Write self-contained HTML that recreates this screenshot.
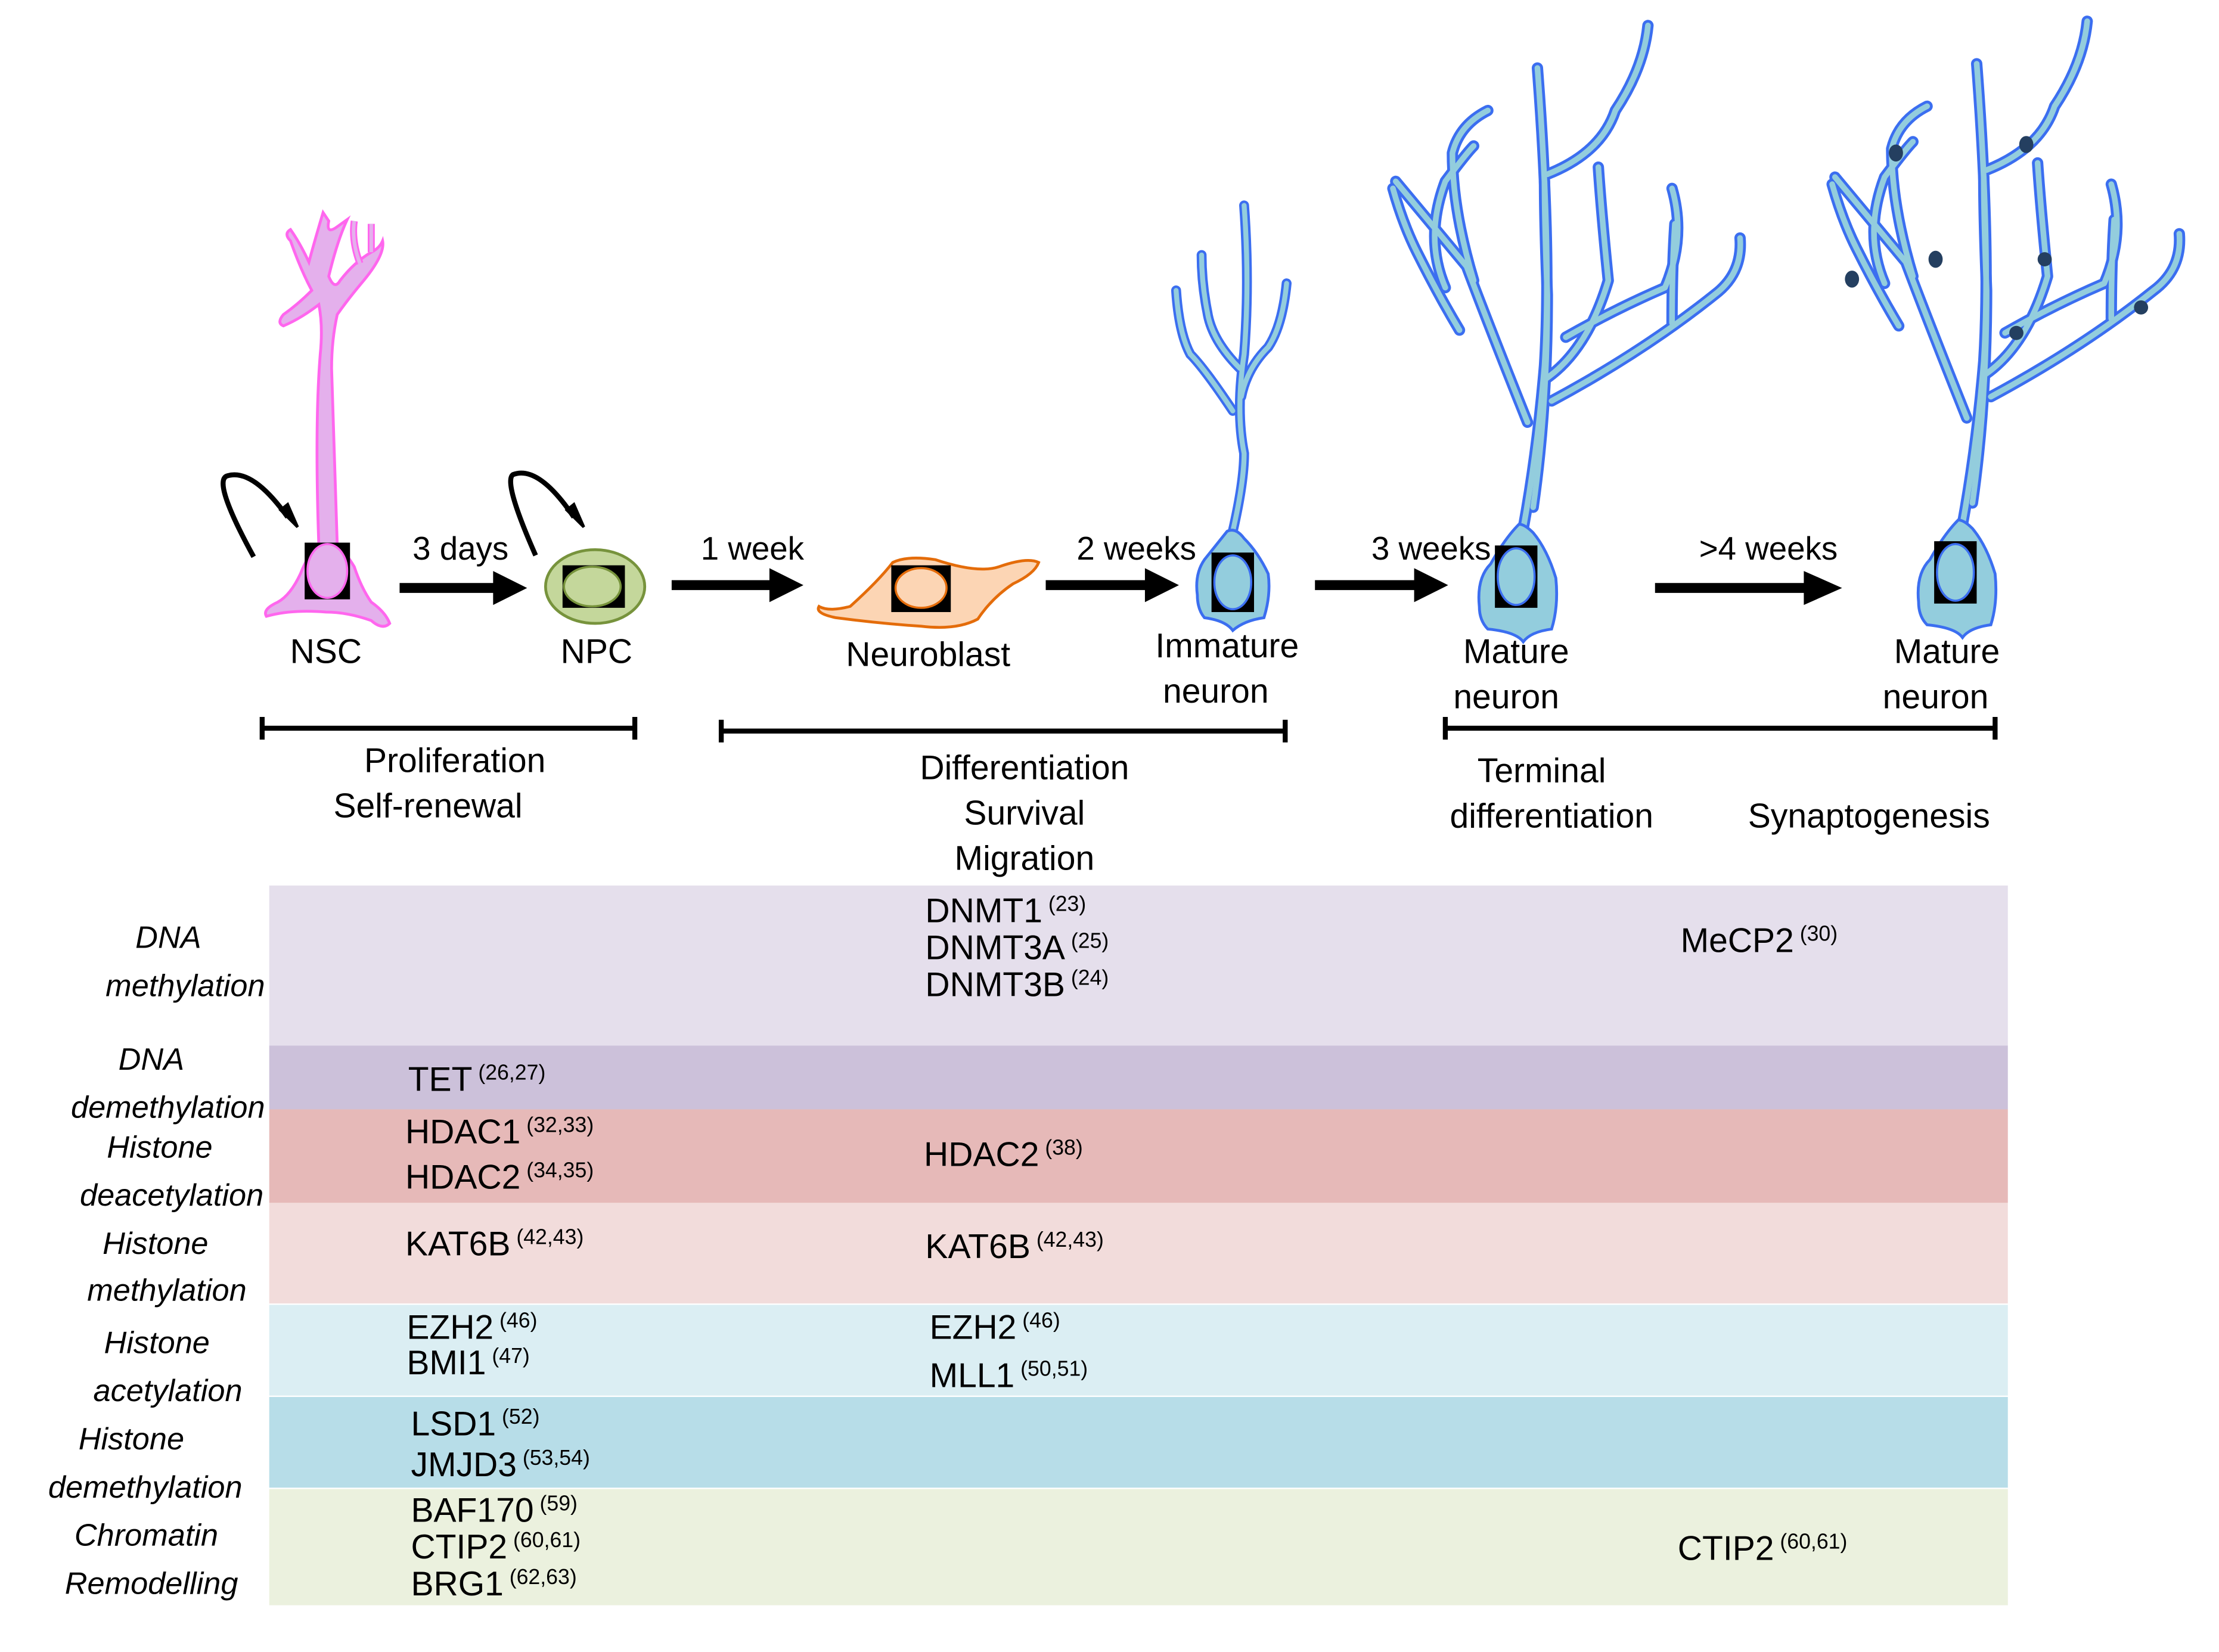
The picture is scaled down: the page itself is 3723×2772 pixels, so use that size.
<!DOCTYPE html>
<html><head><meta charset="utf-8"><style>html,body{margin:0;padding:0;background:#fff}svg{display:block}text{font-family:"Liberation Sans",sans-serif;fill:#000}</style></head><body>
<svg width="3723" height="2772" viewBox="0 0 1566 1166" xmlns="http://www.w3.org/2000/svg">
<defs>
<g id="mature">
 <g fill="none" stroke-linecap="round" stroke-linejoin="round">
  <g stroke="#3b6ef0" stroke-width="8">
   <path d="M5,-35 Q15,-90 20,-150 Q25,-230 15,-360"/>
   <path d="M12,-50 Q22,-120 22,-200 Q20,-250 20,-280"/>
   <path d="M22,-285 Q60,-300 70,-330 Q90,-360 93,-390"/>
   <path d="M8,-110 Q-20,-180 -35,-220 Q-60,-250 -85,-280"/>
   <path d="M-30,-210 Q-45,-260 -45,-300 Q-40,-320 -20,-330"/>
   <path d="M-40,-175 Q-55,-200 -70,-230 Q-80,-250 -87,-275"/>
   <path d="M-50,-205 Q-65,-240 -50,-280 Q-35,-300 -30,-305"/>
   <path d="M20,-140 Q50,-160 65,-210 Q60,-260 58,-290"/>
   <path d="M35,-170 Q70,-190 105,-205 Q120,-240 110,-275"/>
   <path d="M25,-125 Q90,-160 140,-200 Q160,-215 158,-240"/>
   <path d="M110,-180 Q110,-220 112,-250"/>
  </g>
  <g stroke="#93cddd" stroke-width="4">
   <path d="M5,-35 Q15,-90 20,-150 Q25,-230 15,-360"/>
   <path d="M12,-50 Q22,-120 22,-200 Q20,-250 20,-280"/>
   <path d="M22,-285 Q60,-300 70,-330 Q90,-360 93,-390"/>
   <path d="M8,-110 Q-20,-180 -35,-220 Q-60,-250 -85,-280"/>
   <path d="M-30,-210 Q-45,-260 -45,-300 Q-40,-320 -20,-330"/>
   <path d="M-40,-175 Q-55,-200 -70,-230 Q-80,-250 -87,-275"/>
   <path d="M-50,-205 Q-65,-240 -50,-280 Q-35,-300 -30,-305"/>
   <path d="M20,-140 Q50,-160 65,-210 Q60,-260 58,-290"/>
   <path d="M35,-170 Q70,-190 105,-205 Q120,-240 110,-275"/>
   <path d="M25,-125 Q90,-160 140,-200 Q160,-215 158,-240"/>
   <path d="M110,-180 Q110,-220 112,-250"/>
  </g>
 </g>
 <path d="M2,-38 Q-8,-28 -18,-10 Q-28,0 -26,20 Q-26,30 -20,36 Q0,38 5,45 Q10,38 25,36 Q30,20 28,0 Q22,-20 12,-32 Q6,-38 2,-38 Z" fill="#93cddd" stroke="#3b6ef0" stroke-width="2"/>
 <rect x="-15" y="-23" width="30" height="44" fill="#000"/>
 <ellipse cx="0" cy="-1" rx="13" ry="20" fill="#93cddd" stroke="#3b6ef0" stroke-width="1.5"/>
</g>
</defs>

<!-- NSC -->
<path d="M225,385 Q222,300 226,250 Q228,230 225,215 Q212,225 200,230 Q195,228 200,222 Q210,215 220,205 Q212,190 205,170 Q200,165 205,162 Q212,172 218,185 Q222,170 228,150 L232,156 Q230,166 238,160 L245,155 Q238,170 232,195 Q236,205 240,198 Q250,185 262,178 Q268,175 270,170 Q272,180 255,200 Q245,212 238,222 Q234,240 234,260 Q236,320 238,385 Q244,390 250,400 Q255,415 262,425 Q272,432 275,440 Q270,445 262,438 Q245,432 230,432 Q205,430 188,435 Q185,430 196,425 Q205,420 212,405 Q218,390 225,385 Z" fill="#e4b0ec" stroke="#ff66ee" stroke-width="2"/>
<path d="M262,178 L262,158 M254,186 Q248,170 250,156" stroke="#ff66ee" stroke-width="5" fill="none"/>
<path d="M262,178 L262,158 M254,186 Q248,170 250,156" stroke="#e4b0ec" stroke-width="2.5" fill="none"/>
<rect x="215" y="383" width="32" height="40" fill="#000"/>
<ellipse cx="231" cy="403" rx="14" ry="19" fill="#e4b0ec" stroke="#ff66ee" stroke-width="1.5"/>

<path d="M179,393 Q150,340 160,336 Q178,330 203,365" fill="none" stroke="#000" stroke-width="3.5"/>
<path d="M198,360 L210,372 L203,356 Z" fill="#000" stroke="#000" stroke-width="2"/>
<path d="M378,392 Q355,340 362,335 Q380,328 405,365" fill="none" stroke="#000" stroke-width="3.5"/>
<path d="M400,360 L412,372 L405,356 Z" fill="#000" stroke="#000" stroke-width="2"/>

<ellipse cx="420" cy="414" rx="35" ry="26" fill="#c4d79b" stroke="#77933c" stroke-width="2"/>
<rect x="397" y="399" width="44" height="30" fill="#000"/>
<ellipse cx="418" cy="414" rx="20" ry="14" fill="#c4d79b" stroke="#77933c" stroke-width="1.5"/>

<path d="M578,428 Q585,432 600,428 Q620,410 630,397 Q640,392 660,395 Q690,405 705,400 Q725,393 733,397 Q730,405 715,412 Q700,422 690,437 Q675,445 650,442 Q620,440 590,436 Q575,433 578,428 Z" fill="#fcd5b4" stroke="#e46c0a" stroke-width="2"/>
<rect x="629" y="399" width="42" height="33" fill="#000"/>
<ellipse cx="650" cy="415" rx="18" ry="14" fill="#fcd5b4" stroke="#e46c0a" stroke-width="1.5"/>

<g transform="translate(870,410)" fill="none" stroke-linecap="round">
 <g stroke="#3b6ef0" stroke-width="7">
  <path d="M0,-35 Q8,-70 8,-90 Q2,-120 8,-160 Q12,-210 8,-265"/>
  <path d="M5,-150 Q-15,-170 -18,-190 Q-22,-210 -22,-230"/>
  <path d="M0,-120 Q-20,-150 -30,-160 Q-38,-175 -40,-205"/>
  <path d="M6,-130 Q10,-150 25,-165 Q35,-180 38,-210"/>
 </g>
 <g stroke="#93cddd" stroke-width="3.5">
  <path d="M0,-35 Q8,-70 8,-90 Q2,-120 8,-160 Q12,-210 8,-265"/>
  <path d="M5,-150 Q-15,-170 -18,-190 Q-22,-210 -22,-230"/>
  <path d="M0,-120 Q-20,-150 -30,-160 Q-38,-175 -40,-205"/>
  <path d="M6,-130 Q10,-150 25,-165 Q35,-180 38,-210"/>
 </g>
</g>
<path d="M866,375 Q858,385 850,395 Q843,405 845,420 Q845,430 850,436 Q865,438 870,445 Q878,438 892,436 Q897,420 895,405 Q888,390 878,380 Q872,372 866,375 Z" fill="#93cddd" stroke="#3b6ef0" stroke-width="2"/>
<rect x="855" y="390" width="30" height="42" fill="#000"/>
<ellipse cx="870" cy="411" rx="13" ry="19" fill="#93cddd" stroke="#3b6ef0" stroke-width="1.5"/>

<use href="#mature" transform="translate(1070,408)"/>
<use href="#mature" transform="translate(1380,405)"/>
<g fill="#243f60">
 <ellipse cx="1338" cy="108" rx="5" ry="6"/><ellipse cx="1430" cy="102" rx="5" ry="6"/>
 <ellipse cx="1366" cy="183" rx="5" ry="6"/><ellipse cx="1443" cy="183" rx="5" ry="5"/>
 <ellipse cx="1307" cy="197" rx="5" ry="6"/><ellipse cx="1423" cy="235" rx="5" ry="5"/>
 <ellipse cx="1511" cy="217" rx="5" ry="5"/>
</g>

<g stroke="#000" stroke-width="7">
 <line x1="282" y1="415" x2="350" y2="415"/><line x1="474" y1="413" x2="545" y2="413"/>
 <line x1="738" y1="413" x2="810" y2="413"/><line x1="928" y1="413" x2="1000" y2="413"/>
 <line x1="1168" y1="415" x2="1275" y2="415"/>
</g>
<g fill="#000">
 <path d="M348,403 L372,415 L348,427 Z"/><path d="M543,401 L567,413 L543,425 Z"/>
 <path d="M808,401 L832,413 L808,425 Z"/><path d="M998,401 L1022,413 L998,425 Z"/>
 <path d="M1273,403 L1300,415 L1273,427 Z"/>
</g>

<g font-size="23">
<text x="325" y="395" text-anchor="middle">3 days</text>
<text x="531" y="395" text-anchor="middle">1 week</text>
<text x="802" y="395" text-anchor="middle">2 weeks</text>
<text x="1010" y="395" text-anchor="middle">3 weeks</text>
<text x="1248" y="395" text-anchor="middle">&gt;4 weeks</text>
</g>
<g font-size="24" text-anchor="middle">
<text x="230" y="468">NSC</text><text x="421" y="468">NPC</text>
<text x="655" y="470">Neuroblast</text>
<text x="866" y="464">Immature</text><text x="858" y="496">neuron</text>
<text x="1070" y="468">Mature</text><text x="1063" y="500">neuron</text>
<text x="1374" y="468">Mature</text><text x="1366" y="500">neuron</text>
<text x="321" y="545">Proliferation</text><text x="302" y="577">Self-renewal</text>
<text x="723" y="550">Differentiation</text><text x="723" y="582">Survival</text><text x="723" y="614">Migration</text>
<text x="1088" y="552">Terminal</text><text x="1095" y="584">differentiation</text>
<text x="1319" y="584">Synaptogenesis</text>
</g>
<g stroke="#000" stroke-width="3.5">
<line x1="185" y1="514" x2="448" y2="514"/><line x1="185" y1="506" x2="185" y2="522"/><line x1="448" y1="506" x2="448" y2="522"/>
<line x1="509" y1="516" x2="907" y2="516"/><line x1="509" y1="508" x2="509" y2="524"/><line x1="907" y1="508" x2="907" y2="524"/>
<line x1="1020" y1="514" x2="1408" y2="514"/><line x1="1020" y1="506" x2="1020" y2="522"/><line x1="1408" y1="506" x2="1408" y2="522"/>
</g>

<rect x="190" y="625" width="1227" height="113" fill="#e5dfec"/>
<rect x="190" y="738" width="1227" height="45" fill="#ccc1da"/>
<rect x="190" y="783" width="1227" height="66" fill="#e6b9b8"/>
<rect x="190" y="849" width="1227" height="71" fill="#f2dcdb"/>
<rect x="190" y="921" width="1227" height="64" fill="#dbeef3"/>
<rect x="190" y="986" width="1227" height="64" fill="#b7dde8"/>
<rect x="190" y="1051" width="1227" height="82" fill="#ebf1de"/>

<g font-size="22" font-style="italic" text-anchor="end">
<text x="142" y="669">DNA</text><text x="187" y="703">methylation</text>
<text x="130" y="755">DNA</text><text x="187" y="789">demethylation</text>
<text x="150" y="817">Histone</text><text x="186" y="851">deacetylation</text>
<text x="147" y="885">Histone</text><text x="174" y="918">methylation</text>
<text x="148" y="955">Histone</text><text x="171" y="989">acetylation</text>
<text x="130" y="1023">Histone</text><text x="171" y="1057">demethylation</text>
<text x="154" y="1091">Chromatin</text><text x="168" y="1125">Remodelling</text>
</g>

<g font-size="24">
<text x="653" y="651">DNMT1<tspan font-size="15" dy="-8"> (23)</tspan></text>
<text x="653" y="677">DNMT3A<tspan font-size="15" dy="-8"> (25)</tspan></text>
<text x="653" y="703">DNMT3B<tspan font-size="15" dy="-8"> (24)</tspan></text>
<text x="1186" y="672">MeCP2<tspan font-size="15" dy="-8"> (30)</tspan></text>
<text x="288" y="770">TET<tspan font-size="15" dy="-8"> (26,27)</tspan></text>
<text x="286" y="807">HDAC1<tspan font-size="15" dy="-8"> (32,33)</tspan></text>
<text x="286" y="839">HDAC2<tspan font-size="15" dy="-8"> (34,35)</tspan></text>
<text x="652" y="823">HDAC2<tspan font-size="15" dy="-8"> (38)</tspan></text>
<text x="286" y="886">KAT6B<tspan font-size="15" dy="-8"> (42,43)</tspan></text>
<text x="653" y="888">KAT6B<tspan font-size="15" dy="-8"> (42,43)</tspan></text>
<text x="287" y="945">EZH2<tspan font-size="15" dy="-8"> (46)</tspan></text>
<text x="287" y="970">BMI1<tspan font-size="15" dy="-8"> (47)</tspan></text>
<text x="656" y="945">EZH2<tspan font-size="15" dy="-8"> (46)</tspan></text>
<text x="656" y="979">MLL1<tspan font-size="15" dy="-8"> (50,51)</tspan></text>
<text x="290" y="1013">LSD1<tspan font-size="15" dy="-8"> (52)</tspan></text>
<text x="290" y="1042">JMJD3<tspan font-size="15" dy="-8"> (53,54)</tspan></text>
<text x="290" y="1074">BAF170<tspan font-size="15" dy="-8"> (59)</tspan></text>
<text x="290" y="1100">CTIP2<tspan font-size="15" dy="-8"> (60,61)</tspan></text>
<text x="290" y="1126">BRG1<tspan font-size="15" dy="-8"> (62,63)</tspan></text>
<text x="1184" y="1101">CTIP2<tspan font-size="15" dy="-8"> (60,61)</tspan></text>
</g>
</svg>
</body></html>
